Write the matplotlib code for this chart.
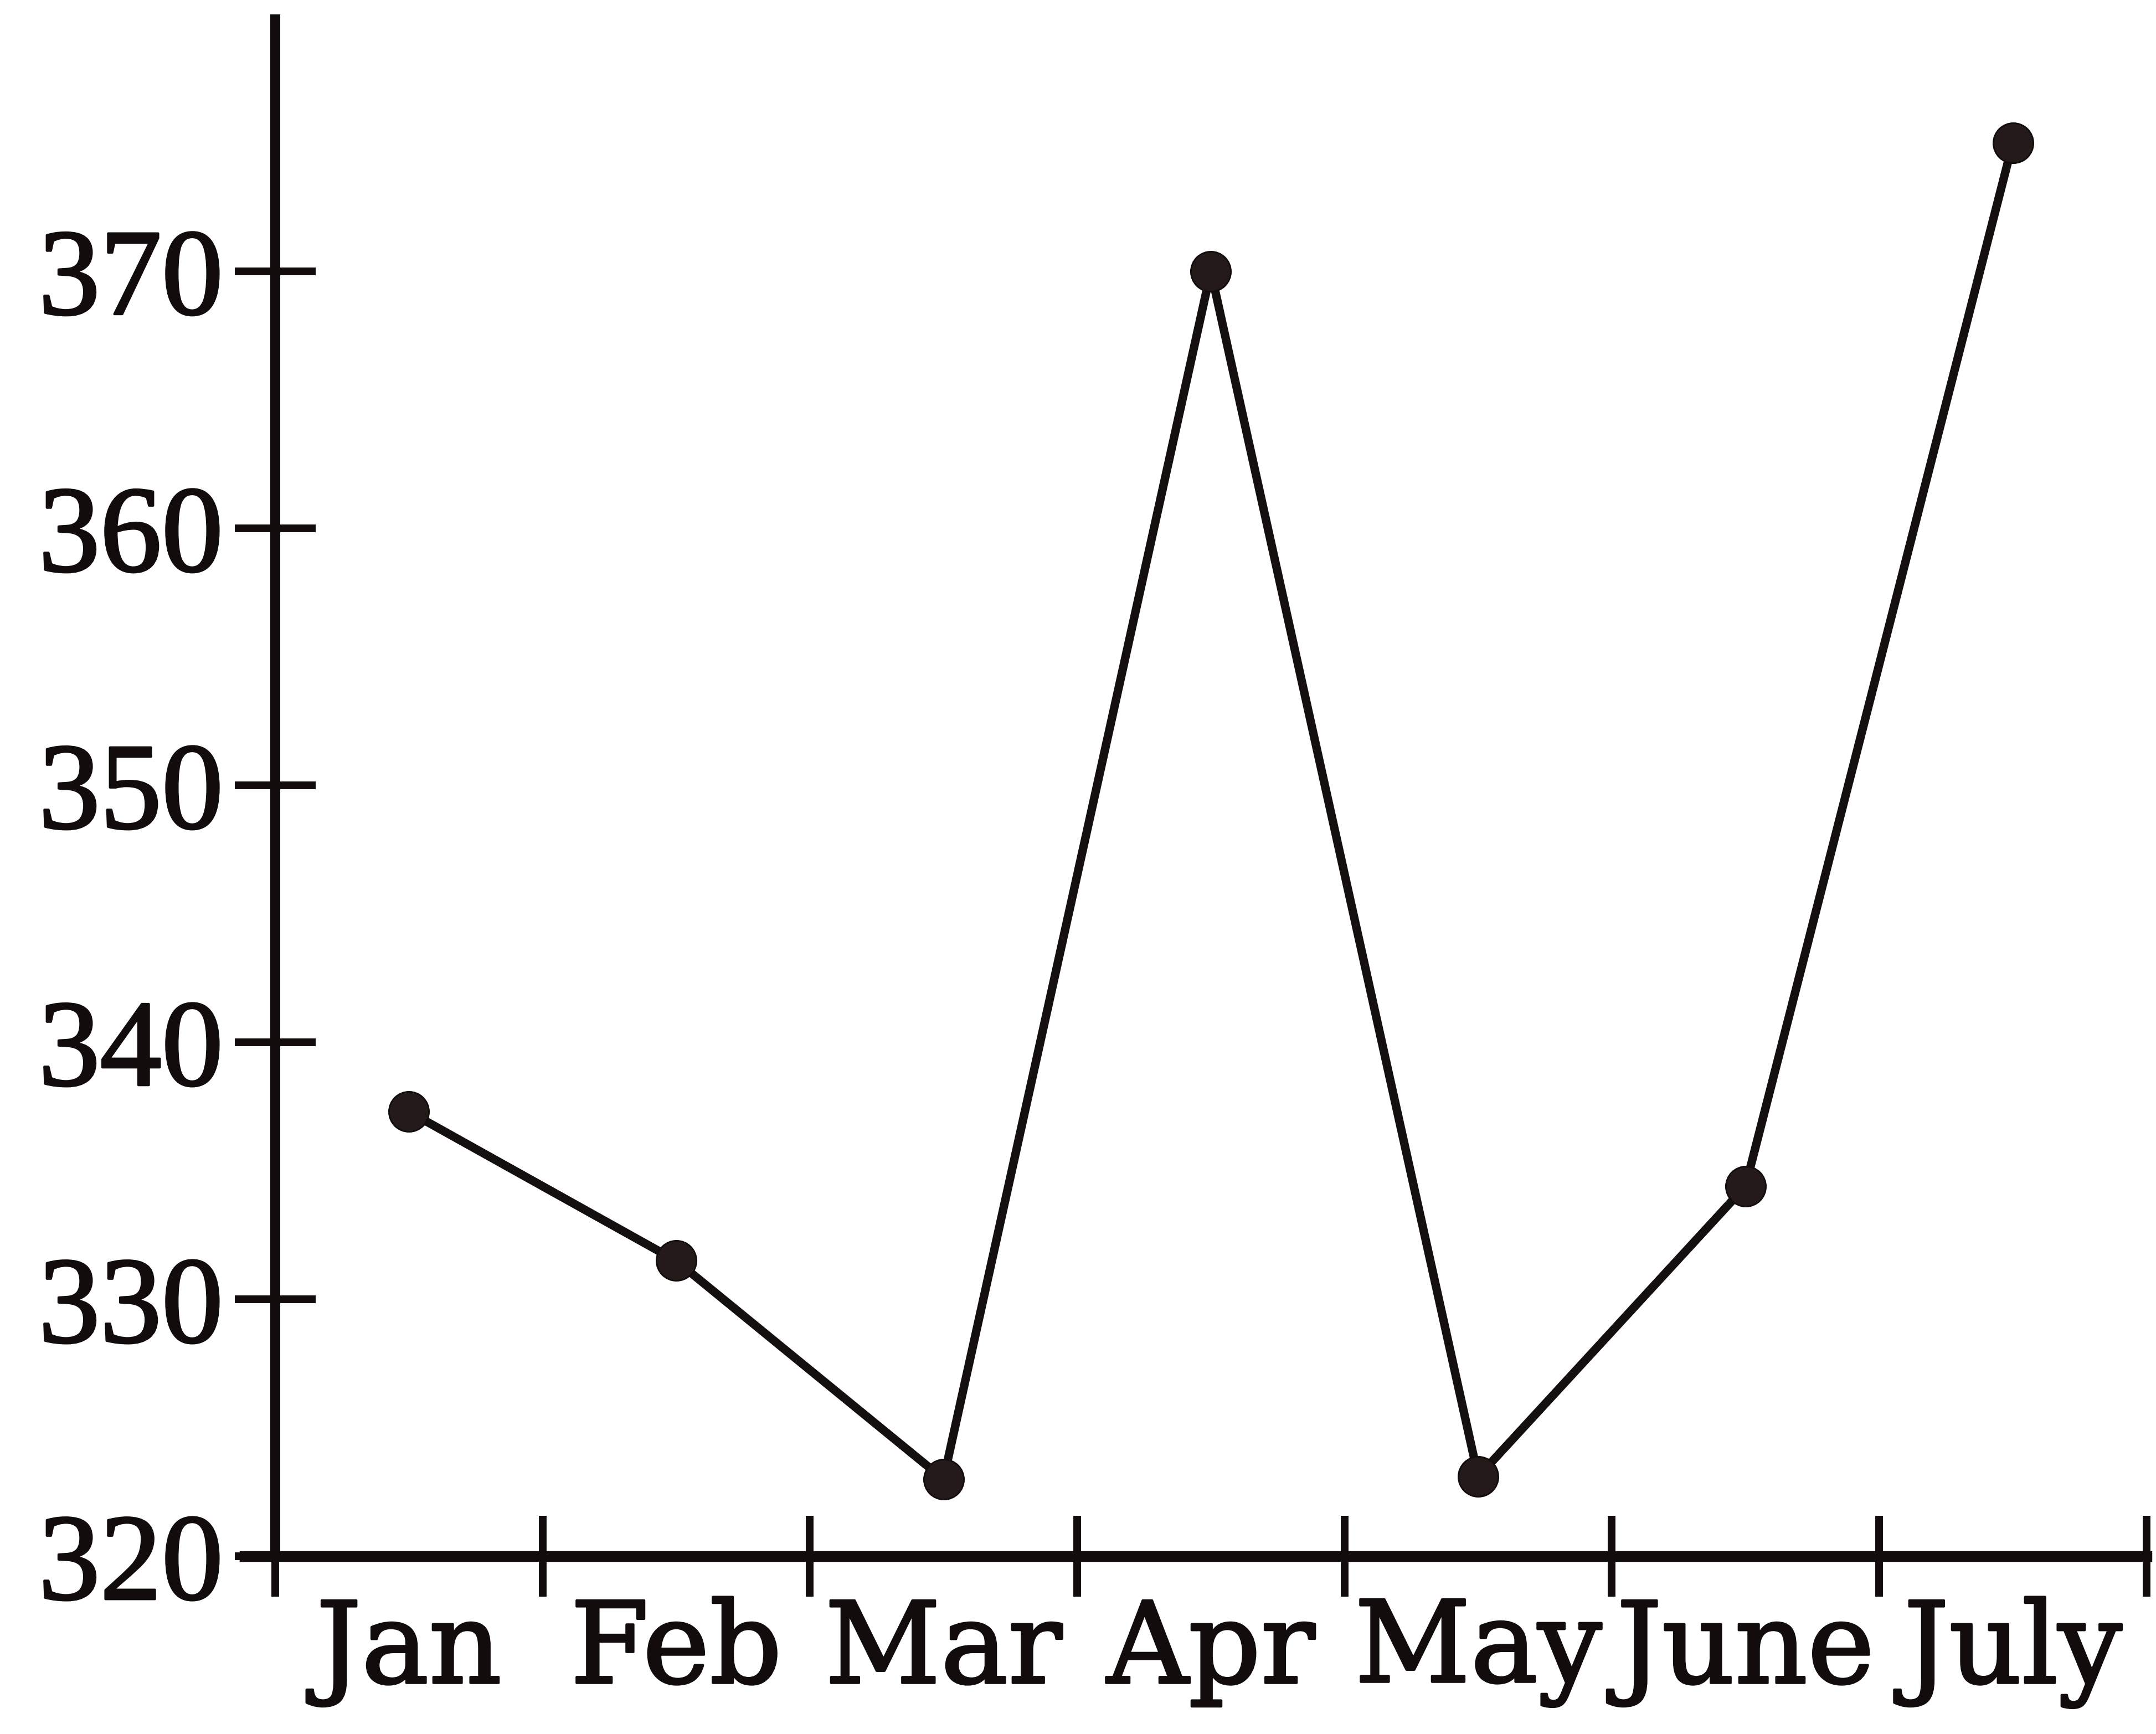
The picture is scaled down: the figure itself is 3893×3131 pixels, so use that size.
import numpy as np
import matplotlib.pyplot as plt
import matplotlib.patheffects as pe

# ---------------- data ----------------
months = ['Jan', 'Feb', 'Mar', 'Apr', 'May', 'June', 'July']
values = [337.3, 331.5, 323.0, 370.0, 323.1, 334.4, 375.0]
y_ticks = [320, 330, 340, 350, 360, 370]

ink = '#120c0c'
thick = [pe.withStroke(linewidth=3, foreground=ink)]

fig = plt.figure(figsize=(38.93, 31.31), dpi=100)
ax = fig.add_axes([0.1135, 0.1025, 0.8821, 0.8863])

# points sit in the middle of each month interval
x = np.arange(len(months)) + 0.5
ax.plot(x, values, color='#151010', lw=11, marker='o', ms=52,
        mfc='#241a1a', mec=ink, mew=2, clip_on=False, zorder=3)

ax.set_xlim(-0.114, 7.0)
ax.set_ylim(320, 379.8)

# axes: only left and bottom, crossing at (0, 320)
for s in ['top', 'right']:
    ax.spines[s].set_visible(False)
ax.spines['left'].set_position(('data', 0))
ax.spines['left'].set_linewidth(13)
ax.spines['bottom'].set_linewidth(14)
ax.spines['left'].set_color(ink)
ax.spines['bottom'].set_color(ink)

# x: tick marks on interval boundaries, labels at the centres
ax.set_xticks(np.arange(len(months) + 1))
ax.set_xticklabels([])
ax.set_xticks(x, minor=True)
ax.set_xticklabels(months, minor=True, fontfamily='DejaVu Serif', fontsize=147, color=ink)
ax.tick_params(axis='x', which='major', direction='inout', length=105, width=10, color=ink)
ax.tick_params(axis='x', which='minor', length=0, pad=53)

ax.set_yticks(y_ticks)
ax.set_yticklabels([str(v) for v in y_ticks], fontfamily='Liberation Serif', fontsize=160, color=ink)
ax.tick_params(axis='y', direction='inout', length=105, width=10, color=ink, pad=15)

for lab in ax.get_xticklabels(minor=True) + ax.get_yticklabels():
    lab.set_path_effects(thick)

fig.savefig('out.png', dpi=100, facecolor='white')
